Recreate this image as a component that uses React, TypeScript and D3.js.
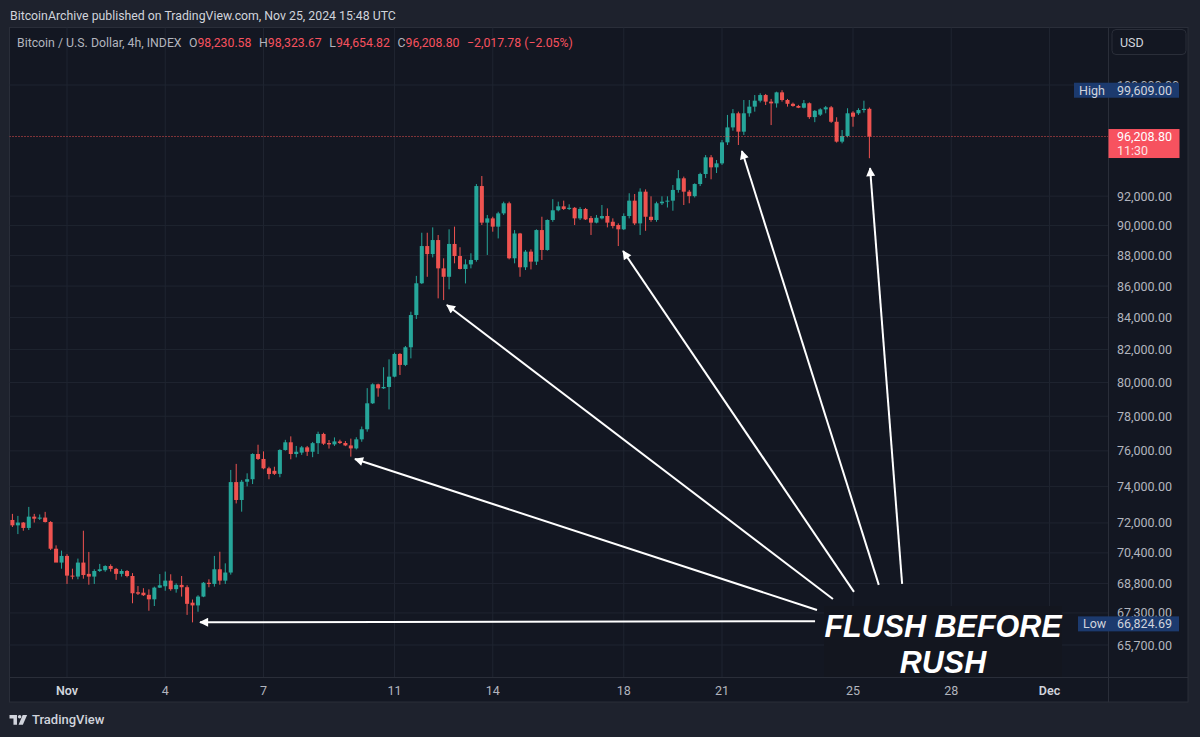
import React from 'react';
import * as d3 from 'd3';

// ---------- DATA (4h candles, BTC/USD, starting Oct 30 2024 08:00 UTC) ----------
const firstBarUtc = Date.UTC(2024, 9, 30, 8);
const barHours = 4;

const opens = [
  72160, 71870, 72020, 71730, 72340, 72230, 72290, 72050, 70620, 69890,
  70240, 69210, 69160, 69890, 69300, 69160, 69450, 69490, 69710, 69560,
  69300, 69450, 69190, 68350, 68330, 68220, 67990, 68590, 68660, 68950,
  68510, 68730, 68610, 67820, 67680, 68130, 68840, 68780, 69540, 68950,
  69370, 74240, 73250, 74260, 74400, 75820, 75540, 75010, 74870, 74700,
  76050, 76490, 75820, 75900, 76200, 75950, 76440, 76970, 76450, 76370,
  76540, 76450, 76310, 76140, 76660, 77240, 78760, 79890, 79650, 79730,
  80350, 81730, 81060, 82140, 84150, 86180, 88620, 88090, 89020, 87150,
  86600, 88760, 87960, 87110, 87410, 87700, 92700, 90190, 90480, 89920,
  90820, 91510, 87810, 89460, 87220, 88250, 87590, 89690, 88360, 90370,
  91030, 91300, 91120, 91200, 90480, 91120, 90500, 90190, 90480, 90640,
  90250, 90030, 89740, 90640, 91690, 90140, 92310, 90590, 90370, 91510,
  91620, 91690, 92430, 93240, 92310, 92000, 92840, 93540, 94720, 94010,
  94290, 95790, 96870, 97900, 96560, 97900, 98390, 98830, 99250, 98760,
  98630, 99450, 98880, 98600, 98440, 98310, 98640, 97620, 97800, 98190,
  98340, 97280, 95840, 96250, 97950, 97900, 98140, 98230.58,
];
const highs = [
  72490, 72380, 72050, 72870, 72490, 72460, 72600, 72100, 70800, 70520,
  70330, 69570, 70100, 71580, 70450, 69540, 69820, 69750, 69800, 69610,
  69540, 69500, 69340, 68670, 68560, 68500, 68640, 69290, 69420, 69280,
  68810, 69190, 68710, 67980, 68200, 68880, 69020, 70240, 70460, 69850,
  74920, 75260, 74360, 74730, 75860, 76350, 75970, 75100, 75100, 76090,
  76630, 76830, 76280, 76280, 76280, 76510, 77100, 77040, 76620, 76770,
  76640, 76560, 76700, 76780, 77400, 79660, 79950, 79930, 80920, 81400,
  81810, 81780, 82220, 84360, 86660, 89510, 89510, 89870, 89360, 87810,
  89740, 89920, 88540, 87740, 88140, 92840, 93400, 90710, 90590, 90930,
  91620, 91620, 89690, 89500, 88360, 88400, 89740, 90590, 90410, 91790,
  91620, 91690, 91440, 91250, 91250, 91190, 90640, 90710, 91390, 91160,
  90480, 90140, 90820, 92200, 92150, 92540, 92470, 91990, 91620, 91990,
  91990, 92770, 93820, 93360, 92430, 92890, 93630, 94880, 94880, 94530,
  95960, 97780, 98210, 98020, 98880, 98880, 99250, 99380, 99330, 98960,
  99500, 99609, 98960, 98690, 98520, 98880, 98700, 98140, 98270, 98440,
  98440, 97610, 96680, 98270, 98050, 98270, 98830, 98323.67,
];
const lows = [
  71780, 71400, 71580, 71620, 72020, 72160, 72020, 70550, 69970, 69570,
  68780, 69020, 69020, 69050, 68740, 68780, 69400, 69410, 69420, 68990,
  69160, 69120, 67790, 68210, 68160, 67410, 67650, 68570, 68430, 68430,
  68330, 68130, 67200, 66824.69, 67360, 68100, 68610, 68640, 68740, 68780,
  69260, 73060, 72610, 74000, 74130, 75480, 74960, 74400, 74640, 74510,
  76010, 75520, 75630, 75770, 75710, 75640, 75820, 76340, 76130, 76280,
  76390, 76270, 75670, 76080, 76520, 77100, 78720, 79150, 79610, 78400,
  80310, 80450, 80990, 81460, 83900, 86130, 86600, 87870, 85210, 85100,
  85790, 87480, 87080, 86170, 87150, 87590, 90030, 88030, 89580, 89130,
  90710, 87740, 87480, 86600, 87040, 87080, 87370, 87700, 88310, 90250,
  90960, 91050, 91050, 90030, 90370, 90370, 89360, 90140, 90410, 89870,
  89800, 88620, 89690, 90480, 90030, 89360, 89640, 90250, 90250, 91390,
  91220, 91000, 92240, 91390, 91510, 91910, 92700, 93260, 93170, 93610,
  94180, 95600, 96630, 95600, 96320, 97650, 98020, 98700, 98510, 97040,
  98320, 98760, 98390, 98380, 98280, 98260, 97490, 97250, 97700, 97900,
  97200, 95770, 95720, 96150, 96920, 97780, 97950, 94654.82,
];
const closes = [
  71870, 72020, 71730, 72340, 72230, 72290, 72050, 70620, 69890, 70240,
  69210, 69160, 69890, 69240, 69160, 69450, 69540, 69710, 69560, 69300,
  69450, 69190, 68300, 68280, 68200, 67990, 68590, 68710, 68950, 68510,
  68730, 68610, 67760, 67680, 68130, 68840, 68780, 69540, 68950, 69370,
  74240, 73250, 74260, 74400, 75820, 75540, 75010, 74690, 74700, 76050,
  76490, 75820, 75950, 76200, 75950, 76440, 76970, 76410, 76370, 76540,
  76450, 76310, 76140, 76660, 77240, 78760, 79890, 79650, 79730, 80350,
  81730, 81060, 82140, 84150, 86180, 88620, 88090, 89020, 87150, 86600,
  88760, 87960, 87110, 87410, 87700, 92700, 90190, 90480, 89920, 90820,
  91510, 87810, 89460, 87220, 88250, 87590, 89690, 88360, 90370, 91030,
  91300, 91120, 91200, 90480, 91120, 90410, 90190, 90520, 90640, 90190,
  89960, 89740, 90640, 91690, 90140, 92310, 90590, 90370, 91510, 91620,
  91690, 92430, 93240, 92310, 92000, 92840, 93540, 94720, 94010, 94290,
  95790, 96870, 97900, 96560, 97900, 98390, 98830, 99250, 98760, 98630,
  99450, 98880, 98600, 98440, 98310, 98640, 97620, 98080, 98190, 98340,
  97280, 95840, 96250, 97900, 97650, 98140, 98226.58, 96208.8,
];

const priceTicks = [100000, 92000, 90000, 88000, 86000, 84000, 82000, 80000, 78000, 76000, 74000, 72000, 70400, 68800, 67300, 65700];
const timeTickDates = [
  Date.UTC(2024, 10, 1), Date.UTC(2024, 10, 4), Date.UTC(2024, 10, 7), Date.UTC(2024, 10, 11),
  Date.UTC(2024, 10, 14), Date.UTC(2024, 10, 18), Date.UTC(2024, 10, 21), Date.UTC(2024, 10, 25),
  Date.UTC(2024, 10, 28), Date.UTC(2024, 11, 1),
];
const timeTickLabels = ['Nov', '4', '7', '11', '14', '18', '21', '25', '28', 'Dec'];

// annotation arrows (hours from Nov 1 00:00 UTC, price)
const arrowHeadHours = [97.5, 211, 278.4, 407.5, 494.6, 588.5];
const arrowHeadPrices = [66830, 75540, 84790, 88290, 95170, 93960];
const arrowTailHours = [548.2, 549.6, 561.3, 576.7, 594.9, 612];
const arrowTailPrices = [66880, 67450, 68010, 68370, 68730, 68780];

const seriesTitle = 'Bitcoin / U.S. Dollar, 4h, INDEX';
const headerText = 'BitcoinArchive published on TradingView.com, Nov 25, 2024 15:48 UTC';
const countdownText = '11:30';
const noteLines = ['FLUSH BEFORE', 'RUSH'];

// ---------- LAYOUT ----------
const W = 1200, H = 737;
const panelL = 9.5, panelT = 27.5, panelR = 1188, panelB = 702;
const axisX = 1108.5, timeAxisY = 677.5;
const UP = '#26a69a', DOWN = '#ef5350';
const FONT = 'Roboto, "Noto Sans", sans-serif';

export default function App() {
  const NOV1 = Date.UTC(2024, 10, 1);
  const x = d3.scaleUtc().domain([NOV1, Date.UTC(2024, 11, 1)]).range([67, 1049.5]);
  const y = d3.scaleLog().domain([65700, 100000]).range([645, 85]);
  const fmt = d3.format(',.2f');

  const bars = opens.map((o, i) => ({
    t: firstBarUtc + i * barHours * 3600e3,
    o, h: highs[i], l: lows[i], c: closes[i],
  }));
  const step = x(firstBarUtc + barHours * 3600e3) - x(firstBarUtc);
  const bw = step * 0.74;

  const last = bars[bars.length - 1];
  const prev = bars[bars.length - 2];
  const chg = last.c - prev.c;
  const chgPct = (chg / prev.c) * 100;
  const hi = d3.max(highs) as number;
  const lo = d3.min(lows) as number;
  const minus = (v: number) => (v < 0 ? '\u2212' : '+') + fmt(Math.abs(v));

  const arrows = arrowHeadHours.map((h, i) => ({
    x1: x(NOV1 + arrowTailHours[i] * 3600e3), y1: y(arrowTailPrices[i]),
    x2: x(NOV1 + h * 3600e3), y2: y(arrowHeadPrices[i]),
  }));

  return (
    <svg width={W} height={H} style={{ position: 'absolute', left: 0, top: 0, display: 'block' }} fontFamily={FONT}>
      <defs>
        <clipPath id="plot"><rect x={panelL} y={panelT} width={axisX - panelL} height={timeAxisY - panelT} /></clipPath>
        <marker id="ah" viewBox="0 0 10 10" refX="9" refY="5" markerWidth="5" markerHeight="4.5" orient="auto" markerUnits="strokeWidth">
          <path d="M0,0 L10,5 L0,10 Z" fill="#ffffff" />
        </marker>
      </defs>
      <rect x={0} y={0} width={W} height={H} fill="#1e222d" />
      <text x={10} y={16} fill="#d1d4dc" fontSize={12.3} dominantBaseline="central">{headerText}</text>

      <rect x={panelL} y={panelT} width={panelR - panelL} height={panelB - panelT} fill="#131722" stroke="#2a2e39" />

      <g clipPath="url(#plot)">
        {timeTickDates.map((d, i) => (
          <line key={'vg' + i} x1={x(d)} x2={x(d)} y1={panelT} y2={timeAxisY} stroke="#1f2430" strokeWidth={1} />
        ))}
        {priceTicks.map((p, i) => (
          <line key={'hg' + i} x1={panelL} x2={axisX} y1={y(p)} y2={y(p)} stroke="#1f2430" strokeWidth={1} />
        ))}
        {bars.map((b, i) => {
          const cx = x(b.t);
          const col = b.c >= b.o ? UP : DOWN;
          const top = y(Math.max(b.o, b.c));
          const bot = y(Math.min(b.o, b.c));
          return (
            <g key={'b' + i}>
              <line x1={cx} x2={cx} y1={y(b.h)} y2={y(b.l)} stroke={col} strokeWidth={1} />
              <rect x={cx - bw / 2} y={top} width={bw} height={Math.max(1, bot - top)} fill={col} />
            </g>
          );
        })}
        <line x1={panelL} x2={axisX} y1={y(last.c)} y2={y(last.c)} stroke={DOWN} strokeWidth={1} strokeDasharray="1 2" />
      </g>

      {/* annotation */}
      {arrows.map((a, i) => (
        <line key={'ar' + i} x1={a.x1} y1={a.y1} x2={a.x2} y2={a.y2} stroke="#ffffff" strokeWidth={2} markerEnd="url(#ah)" />
      ))}
      <rect x={824} y={606} width={238} height={71} fill="#13161f" />
      {noteLines.map((t, i) => (
        <text key={'n' + i} x={943} y={637 + i * 36} textAnchor="middle" fill="#ffffff" fontSize={30.5}
          fontWeight="bold" fontStyle="italic" fontFamily='"Liberation Sans", Arial, sans-serif'>{t}</text>
      ))}

      {/* axes separators */}
      <line x1={axisX} x2={axisX} y1={panelT} y2={panelB} stroke="#2a2e39" />
      <line x1={panelL} x2={panelR} y1={timeAxisY} y2={timeAxisY} stroke="#2a2e39" />

      {/* price axis */}
      {priceTicks.map((p, i) => (
        <text key={'pl' + i} x={1117} y={y(p)} fill="#b2b5be" fontSize={12.5} dominantBaseline="central">{fmt(p)}</text>
      ))}
      {/* time axis */}
      {timeTickDates.map((d, i) => {
        const major = timeTickLabels[i] === 'Nov' || timeTickLabels[i] === 'Dec';
        return (
          <text key={'tl' + i} x={x(d)} y={690} textAnchor="middle" dominantBaseline="central" fontSize={12.5}
            fill={major ? '#d1d4dc' : '#b2b5be'} fontWeight={major ? 600 : 400}>{timeTickLabels[i]}</text>
        );
      })}

      {/* High / Low / last price labels */}
      <rect x={1074} y={y(hi) - 7.5} width={105} height={15} fill="#1c3a6e" />
      <text x={1079} y={y(hi)} fill="#d1d4dc" fontSize={12.5} dominantBaseline="central">High</text>
      <text x={1117} y={y(hi)} fill="#d1d4dc" fontSize={12.5} dominantBaseline="central">{fmt(hi)}</text>
      <rect x={1078} y={y(lo) - 6} width={101} height={15} fill="#1c3a6e" />
      <text x={1083} y={y(lo) + 1.5} fill="#d1d4dc" fontSize={12.5} dominantBaseline="central">Low</text>
      <text x={1117} y={y(lo) + 1.5} fill="#d1d4dc" fontSize={12.5} dominantBaseline="central">{fmt(lo)}</text>
      <rect x={axisX} y={y(last.c) - 7.5} width={1179.5 - axisX} height={29} fill="#f7525f" />
      <text x={1117} y={y(last.c)} fill="#ffffff" fontSize={12.5} dominantBaseline="central">{fmt(last.c)}</text>
      <text x={1117} y={y(last.c) + 13.5} fill="#ffffff" fillOpacity={0.85} fontSize={12.5} dominantBaseline="central">{countdownText}</text>

      {/* USD button */}
      <rect x={1112} y={29.5} width={74} height={25} rx={4} fill="#131722" stroke="#2a2e39" />
      <text x={1120} y={42} fill="#d1d4dc" fontSize={12.5} dominantBaseline="central">USD</text>

      {/* legend row */}
      <text x={17} y={43} fontSize={12.3} dominantBaseline="central" fill="#b2b5be">
        <tspan>{seriesTitle}</tspan>
        <tspan dx={7.5}>O</tspan><tspan fill="#f7525f">{fmt(last.o)}</tspan>
        <tspan dx={7.5}>H</tspan><tspan fill="#f7525f">{fmt(last.h)}</tspan>
        <tspan dx={7.5}>L</tspan><tspan fill="#f7525f">{fmt(last.l)}</tspan>
        <tspan dx={7.5}>C</tspan><tspan fill="#f7525f">{fmt(last.c)}</tspan>
        <tspan dx={7.5} fill="#f7525f">{minus(chg)} ({chgPct < 0 ? '\u2212' : '+'}{Math.abs(chgPct).toFixed(2)}%)</tspan>
      </text>

      {/* TradingView logo */}
      <g transform="translate(9.5,715) scale(0.88)" fill="#d1d4dc">
        <path d="M0,0 H8.5 V11 H4.5 V4 H0 Z" />
        <circle cx={11.5} cy={2} r={2} />
        <path d="M15,0 H20 L15.2,11 H10.3 Z" />
      </g>
      <text x={32} y={719.5} fill="#d1d4dc" fontSize={13} fontWeight={500} dominantBaseline="central">TradingView</text>
    </svg>
  );
}
